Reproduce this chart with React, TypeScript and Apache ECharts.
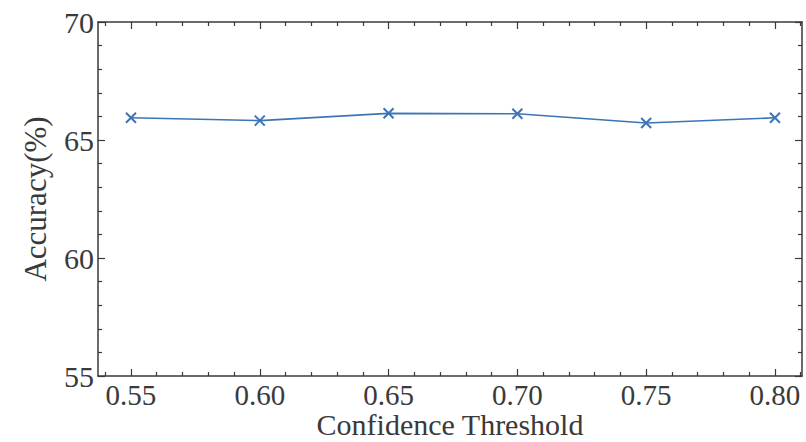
import React, { useEffect, useRef } from "react";
import * as echarts from "echarts";

const thresholds = [0.55, 0.6, 0.65, 0.7, 0.75, 0.8];
const accuracy = [65.94, 65.82, 66.13, 66.11, 65.72, 65.94];
const xMajorTicks = [0.55, 0.6, 0.65, 0.7, 0.75, 0.8];
const xMinorTicks = [0.54, 0.56, 0.57, 0.58, 0.59, 0.61, 0.62, 0.63, 0.64, 0.66, 0.67, 0.68, 0.69, 0.71, 0.72, 0.73, 0.74, 0.76, 0.77, 0.78, 0.79, 0.81];
const yMajorTicks = [55, 60, 65, 70];
const yMinorTicks = [56, 57, 58, 59, 61, 62, 63, 64, 66, 67, 68, 69];

const FONT = "Liberation Serif";
const AXIS_COLOR = "#3a3a3a";
const TEXT_COLOR = "#3a3a3a";
const LINE_COLOR = "#3d74b5";
const X_MIN = 0.5372;
const X_MAX = 0.8105;

export default function App() {
  const ref = useRef<HTMLDivElement>(null);
  useEffect(() => {
    if (!ref.current) return;
    const chart = echarts.init(ref.current, null, { renderer: "svg" });
    const fmtX = (v: number) => v.toFixed(2);
    const xAxisBase = (position: string, ticks: number[], len: number, labels: boolean, line: boolean, name?: string) => ({
      type: "value",
      position,
      min: X_MIN,
      max: X_MAX,
      name: name,
      nameLocation: "middle",
      nameGap: 34,
      nameMoveOverlap: false,
      nameTextStyle: { fontFamily: FONT, fontSize: 30, color: TEXT_COLOR, lineHeight: 28 },
      axisLine: { show: line, onZero: false, lineStyle: { color: AXIS_COLOR, width: 1.5 } },
      axisTick: { show: true, inside: true, length: len, customValues: ticks, lineStyle: { color: AXIS_COLOR, width: 1.2 } },
      axisLabel: {
        show: labels,
        customValues: xMajorTicks,
        formatter: fmtX,
        fontFamily: FONT,
        fontSize: 29,
        lineHeight: 26,
        color: TEXT_COLOR,
        margin: 6,
      },
      splitLine: { show: false },
    });
    const yAxisBase = (position: string, ticks: number[], len: number, labels: boolean, line: boolean, name?: string) => ({
      type: "value",
      position,
      min: 55,
      max: 70,
      name: name,
      nameLocation: "middle",
      nameGap: 47,
      nameRotate: 90,
      nameTextStyle: { fontFamily: FONT, fontSize: 31, color: TEXT_COLOR },
      axisLine: { show: line, onZero: false, lineStyle: { color: AXIS_COLOR, width: 1.5 } },
      axisTick: { show: true, inside: true, length: len, customValues: ticks, lineStyle: { color: AXIS_COLOR, width: 1.2 } },
      axisLabel: {
        show: labels,
        customValues: yMajorTicks,
        fontFamily: FONT,
        fontSize: 30,
        color: TEXT_COLOR,
        margin: 4,
      },
      splitLine: { show: false },
    });
    chart.setOption({
      animation: false,
      backgroundColor: "#ffffff",
      grid: { left: 98, right: 4, top: 22, bottom: 66, containLabel: false, outerBoundsMode: "none" },
      xAxis: [
        xAxisBase("bottom", xMajorTicks, 7, true, true, "Confidence Threshold"),
        xAxisBase("bottom", xMinorTicks, 4, false, false),
        xAxisBase("top", xMajorTicks, 7, false, true),
        xAxisBase("top", xMinorTicks, 4, false, false),
      ],
      yAxis: [
        yAxisBase("left", yMajorTicks, 7, true, true, "Accuracy(%)"),
        yAxisBase("left", yMinorTicks, 4, false, false),
        yAxisBase("right", yMajorTicks, 7, false, true),
        yAxisBase("right", yMinorTicks, 4, false, false),
      ],
      series: [
        {
          type: "line",
          xAxisIndex: 0,
          yAxisIndex: 0,
          data: thresholds.map((t, i) => [t, accuracy[i]]),
          symbol: "path://M0,0L10,10M10,0L0,10",
          symbolSize: 10,
          lineStyle: { color: LINE_COLOR, width: 1.6 },
          itemStyle: { color: LINE_COLOR, borderColor: LINE_COLOR, borderWidth: 2 },
        },
      ],
    });
    return () => chart.dispose();
  }, []);
  return <div ref={ref} style={{ position: "absolute", left: 0, top: 0, width: 806, height: 442 }} />;
}
